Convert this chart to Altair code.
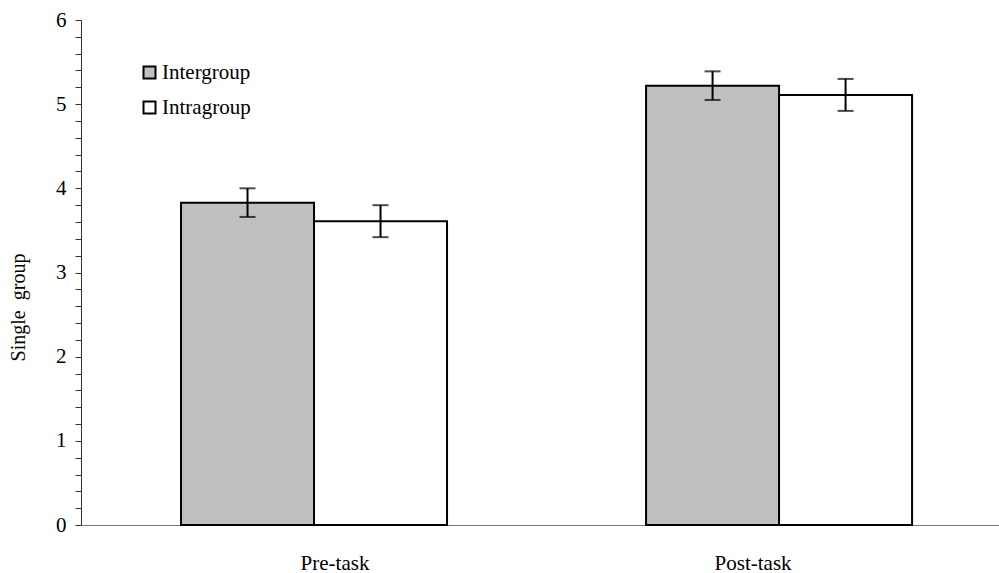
import altair as alt
import pandas as pd

times = ["Pre-task", "Post-task"]
groups = ["Intergroup", "Intragroup"]
means_inter = [3.83, 5.22]
means_intra = [3.61, 5.11]
err_inter = [0.17, 0.17]
err_intra = [0.19, 0.19]
y_ticks = [0, 0.2, 0.4, 0.6, 0.8, 1, 1.2, 1.4, 1.6, 1.8, 2, 2.2, 2.4, 2.6, 2.8, 3,
           3.2, 3.4, 3.6, 3.8, 4, 4.2, 4.4, 4.6, 4.8, 5, 5.2, 5.4, 5.6, 5.8, 6]
fill_colors = ["#c0c0c0", "#ffffff"]

rows = []
for i, t in enumerate(times):
    rows.append({"time": t, "group": groups[0], "mean": means_inter[i],
                 "lo": means_inter[i] - err_inter[i], "hi": means_inter[i] + err_inter[i]})
    rows.append({"time": t, "group": groups[1], "mean": means_intra[i],
                 "lo": means_intra[i] - err_intra[i], "hi": means_intra[i] + err_intra[i]})
df = pd.DataFrame(rows)

FONT = "Liberation Serif"

x_scale = alt.Scale(paddingInner=0.428, paddingOuter=0.201, align=0.535)
x_axis = alt.Axis(
    title=None, ticks=False, labelAngle=0, labelFont=FONT, labelFontSize=21,
    labelColor="black", labelPadding=27, domainColor="#777777", domainWidth=1,
    grid=False,
    labelOffset={"condition": {"test": "datum.value === 'Pre-task'", "value": 21}, "value": -26},
)
y_scale = alt.Scale(domain=[0, 6], nice=False, zero=True)
y_axis = alt.Axis(
    title="Single\u00a0 group", values=y_ticks,
    labelExpr="abs(datum.value - round(datum.value)) < 0.001 ? format(datum.value, 'd') : ''",
    labelOverlap=False, grid=False, tickSize=6, tickColor="#333333",
    domainColor="#333333", labelFont=FONT, labelFontSize=21, labelColor="black",
    labelPadding=9, titleFont=FONT, titleFontSize=20, titleFontWeight="normal",
    titleColor="black", titleX=-57, titleY=287, titleAlign="center",
    titleBaseline="alphabetic", titleAngle=270,
)

x_enc = alt.X("time:N", sort=times, scale=x_scale, axis=x_axis)
xo = alt.XOffset("group:N", sort=groups, scale=alt.Scale(paddingInner=0, paddingOuter=0))

bars = alt.Chart(df).mark_bar(stroke="black", strokeWidth=2).encode(
    x=x_enc,
    xOffset=xo,
    y=alt.Y("mean:Q", scale=y_scale, axis=y_axis),
    fill=alt.Fill(
        "group:N",
        sort=groups,
        scale=alt.Scale(domain=groups, range=fill_colors),
        legend=alt.Legend(
            title=None, orient="none", legendX=58, legendY=42, symbolType="square",
            symbolSize=144, symbolStrokeColor="black", symbolStrokeWidth=2,
            labelFont=FONT, labelFontSize=21, labelColor="black", labelOffset=2,
            rowPadding=13, padding=0,
        ),
    ),
)

rules = alt.Chart(df).mark_rule(color="black", strokeWidth=2).encode(
    x=x_enc, xOffset=xo,
    y=alt.Y("lo:Q", scale=y_scale, axis=y_axis), y2="hi:Q",
)
caps_hi = alt.Chart(df).mark_tick(color="black", thickness=2, size=16).encode(
    x=x_enc, xOffset=xo, y=alt.Y("hi:Q", scale=y_scale, axis=y_axis),
)
caps_lo = alt.Chart(df).mark_tick(color="black", thickness=2, size=16).encode(
    x=x_enc, xOffset=xo, y=alt.Y("lo:Q", scale=y_scale, axis=y_axis),
)

chart = alt.layer(bars, rules, caps_hi, caps_lo).properties(
    width=918, height=505,
    background="white",
    autosize=alt.AutoSizeParams(type="none"),
    padding={"left": 81, "top": 20, "right": 0, "bottom": 48},
).configure_view(strokeWidth=0, stroke=None)

chart.save("out.html", embed_options={"renderer": "svg", "actions": False})
